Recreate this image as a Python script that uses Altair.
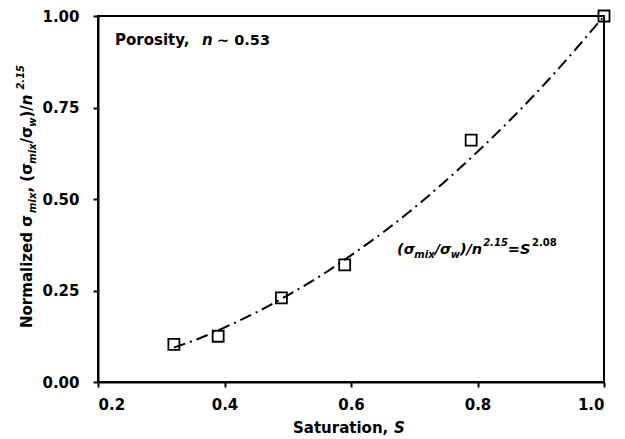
import altair as alt
import pandas as pd

# Measured data (squares)
saturation = [0.32, 0.39, 0.49, 0.59, 0.79, 1.00]
norm_sigma = [0.103, 0.125, 0.230, 0.320, 0.661, 1.000]

# Fitted curve (dash-dot line)
fit_s = [0.32, 0.36, 0.40, 0.45, 0.50, 0.55, 0.60, 0.65, 0.70, 0.75, 0.80, 0.85, 0.90, 0.95, 1.00]
fit_y = [0.094, 0.119, 0.149, 0.190, 0.237, 0.288, 0.346, 0.408, 0.476, 0.550, 0.629, 0.713, 0.803, 0.899, 1.000]

x_ticks = [0.2, 0.4, 0.6, 0.8, 1.0]
y_ticks = [0.0, 0.25, 0.5, 0.75, 1.0]

FONT = "DejaVu Sans"

pts = pd.DataFrame({"S": saturation, "Y": norm_sigma})
fit = pd.DataFrame({"S": fit_s, "Y": fit_y})

xs = alt.Scale(domain=[0.2, 1.0], nice=False, zero=False)
ys = alt.Scale(domain=[0.0, 1.0], nice=False, zero=False)

xaxis = alt.Axis(values=x_ticks, format=".1f", title=None, grid=False,
                 labelPadding=10, tickSize=5)
yaxis = alt.Axis(values=y_ticks, format=".2f", title=None, grid=False,
                 labelPadding=14, tickSize=5)

line = alt.Chart(fit).mark_line(
    color="black", strokeWidth=2, strokeDash=[12, 5, 2, 5], interpolate="monotone"
).encode(
    x=alt.X("S:Q", scale=xs, axis=xaxis),
    y=alt.Y("Y:Q", scale=ys, axis=yaxis),
)

points = alt.Chart(pts).mark_point(
    shape="square", size=121, filled=False, color="black", strokeWidth=1.8, opacity=1
).encode(
    x=alt.X("S:Q", scale=xs),
    y=alt.Y("Y:Q", scale=ys),
)


def txt(t, x, y, size=15, italic=False, angle=0):
    kw = dict(text=t, font=FONT, fontSize=size, fontWeight="bold", color="black",
              align="left", baseline="alphabetic")
    if italic:
        kw["fontStyle"] = "italic"
    if angle:
        kw["angle"] = angle
    return alt.Chart(alt.Data(values=[{}])).mark_text(**kw).encode(
        x=alt.value(x), y=alt.value(y)
    )


# approximate advance widths (em) for DejaVu Sans Bold
W = {"(": .457, ")": .457, "/": .365, ",": .38, " ": .348, "σ": .74, "m": 1.042,
     "i": .343, "x": .645, "w": .924, "n": .712, "2": .696, "1": .696, "5": .696,
     "0": .696, "8": .696, ".": .38, "=": .838, "S": .72}


def width(t, size):
    return sum(W.get(c, .65) for c in t) * size


def run(segments, start, base, horizontal=True):
    """segments: (text, size, italic, baseline shift, gap). Lays them out one after another."""
    out = []
    pos = start
    for t, size, it, shift, gap in segments:
        pos += gap
        if horizontal:
            out.append(txt(t, pos, base + shift, size=size, italic=it))
            pos += width(t, size)
        else:
            out.append(txt(t, base + shift, pos, size=size, italic=it, angle=270))
            pos -= width(t, size)
    return out


ann = []
# Porosity label
ann.append(txt("Porosity, ", 17, 29))
ann.append(txt("n", 104, 29, italic=True))
ann.append(txt("~ 0.53", 119, 29, size=14.5))

# Equation label: (σmix/σw)/n^2.15 = S^2.08
M, SS = 14.5, 10
ann += run([
    ("(σ", M, True, 0, 0),
    ("mix", SS, True, 4, 0),
    ("/σ", M, True, 0, 0),
    ("w", SS, True, 4, 0),
    (")/n", M, True, 0, 0),
    ("2.15", SS, True, -8, 1),
    ("=", M, False, 0, 0),
    ("S", M, True, 0, 0),
    ("2.08", SS, False, -8, 1.5),
], start=299, base=238)

# X axis title
ann.append(txt("Saturation, ", 195, 417))
ann.append(txt("S", 296, 417, italic=True))

# Y axis title (rotated, reads bottom to top)
YM, YS = 15, 10
ann += run([
    ("Normalized σ", YM, False, 0, 0),
    ("mix", YS, True, 4, 0),
    (", (σ", YM, False, 0, 0),
    ("mix", YS, True, 4, 0),
    ("/σ", YM, False, 0, 0),
    ("w", YS, True, 4, 0),
    (")/", YM, False, 0, 0),
    ("n", YM, True, 0, 0),
    ("2.15", YS, True, -8, -5),
], start=312, base=-66, horizontal=False)

chart = alt.layer(line, points, *ann).properties(
    width=506, height=366,
    autosize=alt.AutoSizeParams(type="none"),
    padding={"left": 90, "top": 8, "right": 13, "bottom": 55},
).configure_view(
    stroke="black", strokeWidth=2
).configure_axis(
    domainColor="black", domainWidth=2, tickColor="black", tickWidth=2,
    labelFont=FONT, labelFontSize=15, labelFontWeight="bold", labelColor="black",
)

chart.save("out.html", embed_options={"renderer": "svg", "actions": False})
